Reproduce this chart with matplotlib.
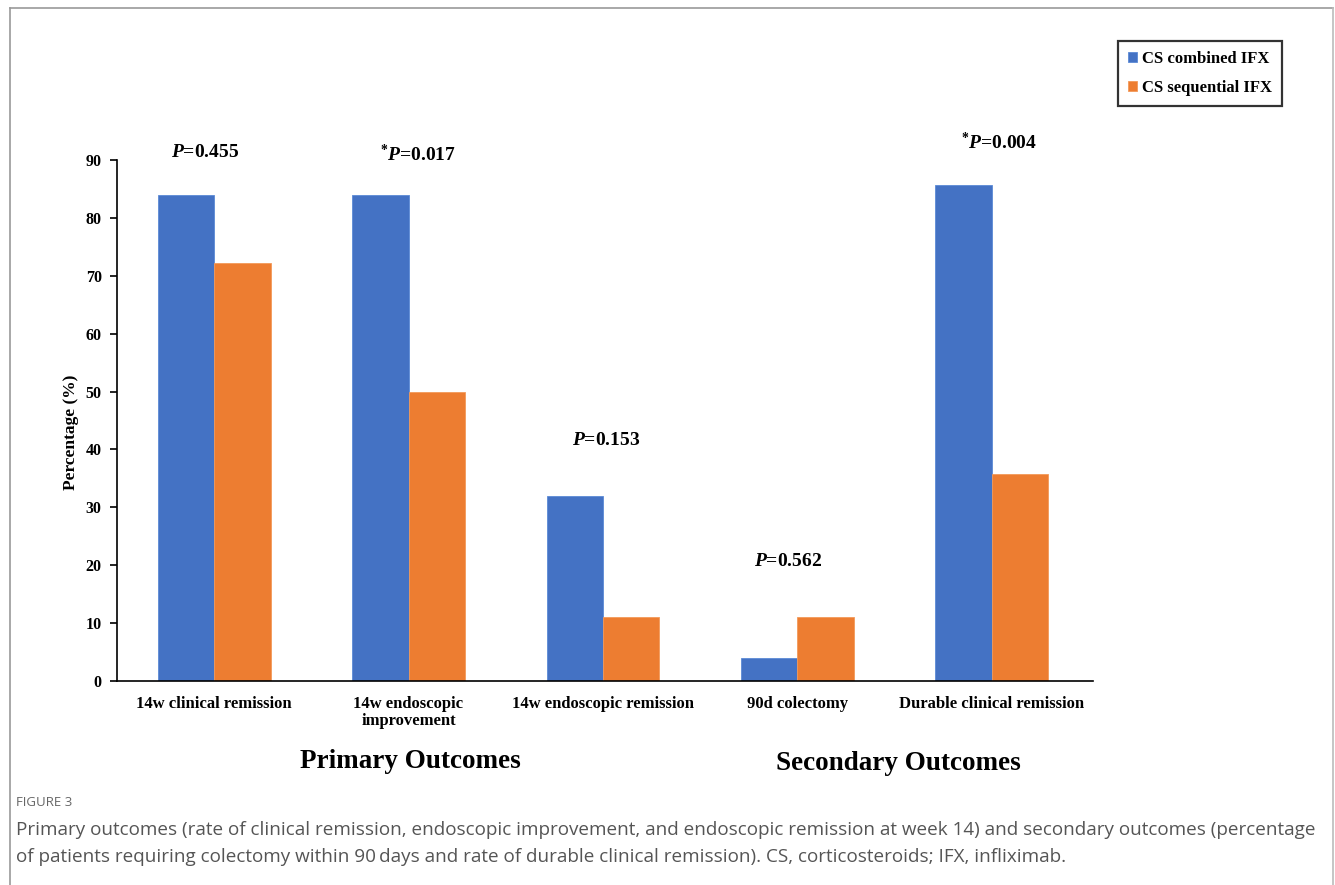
import numpy as np
import matplotlib
matplotlib.use('Agg')
import matplotlib.pyplot as plt
from matplotlib.lines import Line2D

plt.rcParams['font.family'] = ['Liberation Serif', 'DejaVu Serif']
plt.rcParams['mathtext.fontset'] = 'custom'
plt.rcParams['mathtext.rm'] = 'Liberation Serif:bold'
plt.rcParams['mathtext.it'] = 'Liberation Serif:bold:italic'
plt.rcParams['mathtext.bf'] = 'Liberation Serif:bold'

# outcome rates (%)
categories = ['14w clinical remission', '14w endoscopic\nimprovement',
              '14w endoscopic remission', '90d colectomy',
              'Durable clinical remission']
combined = [84.0, 84.0, 32.0, 4.0, 85.7]
sequential = [72.2, 50.0, 11.1, 11.1, 35.7]
p_labels = [r'$\mathit{P}$=0.455', r'$^{*}\mathit{P}$=0.017', r'$\mathit{P}$=0.153',
            r'$\mathit{P}$=0.562', r'$^{*}\mathit{P}$=0.004']
p_heights = [91.3, 90.9, 41.6, 20.6, 93.0]
series_names = ['CS combined IFX', 'CS sequential IFX']

# small horizontal nudges for the p-value labels
p_shift = [-0.045, 0.05, 0.015, -0.05, 0.036]

blue = '#4472C4'
orange = '#ED7D31'

fig = plt.figure(figsize=(13.35, 8.85), dpi=100)
ax = fig.add_axes([0.0876, 0.2305, 0.731, 0.5887])

x = np.arange(len(categories))
w = 0.29
ax.bar(x - w / 2, combined, w, color=blue, edgecolor='#5B8AD6', linewidth=0.6,
       label=series_names[0])
ax.bar(x + w / 2, sequential, w, color=orange, edgecolor='#F39A5A', linewidth=0.6,
       label=series_names[1])

for xi, dx, lab, h in zip(x, p_shift, p_labels, p_heights):
    ax.text(xi + dx, h, lab, ha='center', va='center', fontsize=14, fontweight='bold')

ax.set_xlim(-0.5, 4.52)
ax.set_ylim(0, 90)
ax.set_yticks(range(0, 91, 10))
ax.set_xticks(x)
ax.set_xticklabels(categories, fontsize=12, fontweight='bold', linespacing=1.05)
ax.tick_params(axis='x', length=0, pad=11)
ax.tick_params(axis='y', length=5, width=1.2, labelsize=11.5, pad=6)
for lab in ax.get_yticklabels():
    lab.set_fontweight('bold')
ax.spines['top'].set_visible(False)
ax.spines['right'].set_visible(False)
ax.spines['left'].set_linewidth(1.2)
ax.spines['bottom'].set_linewidth(1.2)
ax.set_ylabel('Percentage (%)', fontsize=12.5, fontweight='bold')
ax.yaxis.set_label_coords(-0.039, 0.478)

leg = fig.legend(loc='upper left', bbox_to_anchor=(1118 / 1335, 1 - 41 / 885),
                 prop={'weight': 'bold', 'size': 12},
                 frameon=True, fancybox=False, edgecolor='black',
                 handlelength=0.55, handleheight=0.55, handletextpad=0.3,
                 labelspacing=0.75, borderpad=0.6, borderaxespad=0)
leg.get_frame().set_linewidth(1.6)

fig.text(410 / 1335, 1 - 762 / 885, 'Primary Outcomes', ha='center', va='center',
         fontsize=19.5, fontweight='bold')
fig.text(898 / 1335, 1 - 763 / 885, 'Secondary Outcomes', ha='center', va='center',
         fontsize=19.5, fontweight='bold')

# caption
cap = ['Open Sans', 'Noto Sans', 'DejaVu Sans']
fig.text(16 / 1335, 1 - 803 / 885, 'FIGURE 3', ha='left', va='center',
         fontsize=9.5, color='#666666', family=cap)
fig.text(16 / 1335, 1 - 830 / 885,
         'Primary outcomes (rate of clinical remission, endoscopic improvement, and endoscopic '
         'remission at week 14) and secondary outcomes (percentage',
         ha='left', va='center', fontsize=13.6, color='#555555', family=cap)
fig.text(16 / 1335, 1 - 857 / 885,
         'of patients requiring colectomy within 90\u2009days and rate of durable clinical '
         'remission). CS, corticosteroids; IFX, infliximab.',
         ha='left', va='center', fontsize=13.6, color='#555555', family=cap)

# outer frame
fig.add_artist(Line2D([10 / 1335, 10 / 1335], [0, 1 - 8 / 885], color='#999999',
                      lw=1.2, transform=fig.transFigure))
fig.add_artist(Line2D([10 / 1335, 1333 / 1335], [1 - 8 / 885, 1 - 8 / 885],
                      color='#999999', lw=1.2, transform=fig.transFigure))
fig.add_artist(Line2D([1333 / 1335, 1333 / 1335], [0, 1 - 8 / 885], color='#bbbbbb',
                      lw=1.2, transform=fig.transFigure))

fig.savefig('out.png', dpi=100)
